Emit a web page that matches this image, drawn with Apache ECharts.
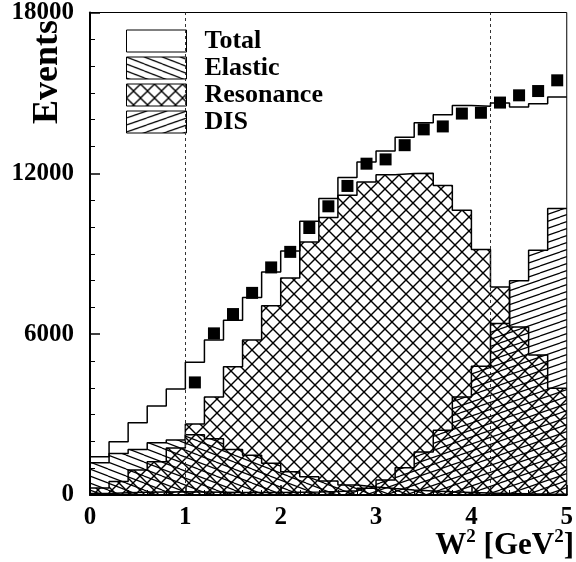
<!DOCTYPE html>
<html>
<head>
<meta charset="utf-8">
<script src="https://cdn.jsdelivr.net/npm/echarts@6/dist/echarts.min.js"></script>
<style>html,body{margin:0;padding:0;background:#fff;}#c{width:576px;height:562px;}</style>
</head>
<body>
<div id="c"></div>
<script>
// ---- data ----
const binEdges = [0, 0.2, 0.4, 0.6, 0.8, 1.0, 1.2, 1.4, 1.6, 1.8, 2.0, 2.2, 2.4, 2.6, 2.8, 3.0, 3.2, 3.4, 3.6, 3.8, 4.0, 4.2, 4.4, 4.6, 4.8, 5.0];
const totalCounts = [1430, 1990, 2700, 3320, 3950, 4950, 5780, 6520, 7370, 8320, 9100, 10210, 11060, 11840, 12420, 12830, 13350, 13890, 14190, 14530, 14500, 14620, 14470, 14600, 14850];
const elasticCounts = [1200, 1550, 1700, 1950, 2050, 2250, 2100, 1700, 1480, 1180, 870, 680, 520, 370, 300, 240, 190, 150, 120, 95, 75, 60, 45, 35, 28];
const resonanceCounts = [260, 500, 930, 1240, 1750, 2650, 3660, 4780, 5780, 7060, 8100, 9440, 10350, 11180, 11680, 11950, 11990, 12000, 11550, 10620, 9160, 7760, 6270, 5220, 3980];
const disCounts = [60, 80, 100, 110, 120, 110, 100, 90, 90, 90, 100, 110, 130, 160, 250, 560, 1020, 1600, 2420, 3660, 4800, 6400, 7990, 9130, 10690];
const dataW2 = [1.1, 1.3, 1.5, 1.7, 1.9, 2.1, 2.3, 2.5, 2.7, 2.9, 3.1, 3.3, 3.5, 3.7, 3.9, 4.1, 4.3, 4.5, 4.7, 4.9];
const dataCounts = [4200, 6030, 6750, 7540, 8490, 9070, 9960, 10770, 11530, 12360, 12520, 13050, 13640, 13750, 14230, 14260, 14640, 14910, 15070, 15470];
const xTickLabels = ['0', '1', '2', '3', '4', '5'];
const yTickLabels = ['0', '6000', '12000', '18000'];
const legendNames = ['Total', 'Elastic', 'Resonance', 'DIS'];
const cutLines = [1.0, 4.2];

// ---- hatch patterns ----
function slantPattern(w, h, rising, lw) {
  const c = document.createElement('canvas');
  c.width = w; c.height = h;
  const g = c.getContext('2d');
  g.strokeStyle = '#000'; g.lineWidth = lw;
  for (let k = -1; k <= 1; k++) {
    g.beginPath();
    if (rising) { g.moveTo(0, h + k * h); g.lineTo(w, k * h); }
    else { g.moveTo(0, k * h); g.lineTo(w, h + k * h); }
    g.stroke();
  }
  return { image: c, repeat: 'repeat' };
}
function crossPattern(s, lw) {
  const c = document.createElement('canvas');
  c.width = s; c.height = s;
  const g = c.getContext('2d');
  g.strokeStyle = '#000'; g.lineWidth = lw;
  for (let k = -1; k <= 1; k++) {
    g.beginPath(); g.moveTo(k * s, 0); g.lineTo(s + k * s, s); g.stroke();
    g.beginPath(); g.moveTo(k * s, s); g.lineTo(s + k * s, 0); g.stroke();
  }
  return { image: c, repeat: 'repeat' };
}
const elasticFill = slantPattern(18, 7, false, 1.2);
const disFill = slantPattern(20, 7, true, 1.2);
const resFill = crossPattern(14, 1.4);

function stepData(counts) {
  return binEdges.map((e, i) => [e, counts[Math.min(i, counts.length - 1)]]);
}

const serif = 'Liberation Serif';
const chart = echarts.init(document.getElementById('c'), null, { renderer: 'canvas' });

function histSeries(name, counts, fill, z) {
  return {
    name: name, type: 'line', step: 'end', data: stepData(counts),
    symbol: 'none', z: z, silent: true,
    lineStyle: { color: '#000', width: 1.5 },
    itemStyle: { color: '#000' },
    areaStyle: fill ? { color: fill, opacity: 1 } : undefined
  };
}

const option = {
  animation: false,
  backgroundColor: '#fff',
  grid: { left: 90, right: 3, top: 12, bottom: 67, show: true, borderColor: '#000', borderWidth: 1, backgroundColor: 'transparent' },
  legend: {
    orient: 'vertical', left: 126, top: 28, padding: 0, itemWidth: 60, itemHeight: 22, itemGap: 1,
    selectedMode: false, icon: 'rect',
    textStyle: { fontFamily: serif, fontWeight: 'bold', fontSize: 26, color: '#000', padding: [0, 0, 0, 13] },
    data: [
      { name: legendNames[0], itemStyle: { color: '#fff', borderColor: '#000', borderWidth: 1 } },
      { name: legendNames[1], itemStyle: { color: elasticFill, borderColor: '#000', borderWidth: 1 } },
      { name: legendNames[2], itemStyle: { color: resFill, borderColor: '#000', borderWidth: 1 } },
      { name: legendNames[3], itemStyle: { color: disFill, borderColor: '#000', borderWidth: 1 } }
    ]
  },
  xAxis: {
    type: 'value', min: 0, max: 5, interval: 1,
    axisLine: { show: true, lineStyle: { color: '#000', width: 2 } },
    axisTick: { show: true, inside: true, length: 10, lineStyle: { color: '#000', width: 1.5 } },
    minorTick: { show: true, splitNumber: 5, length: 5, lineStyle: { color: '#000', width: 1 } },
    splitLine: { show: false },
    axisLabel: { fontFamily: serif, fontWeight: 'bold', fontSize: 25, color: '#000', margin: 10,
      formatter: v => xTickLabels[Math.round(v)] }
  },
  yAxis: {
    type: 'value', min: 0, max: 18000, interval: 6000,
    axisLine: { show: true, lineStyle: { color: '#000', width: 2 } },
    axisTick: { show: true, inside: true, length: 10, lineStyle: { color: '#000', width: 1.5 } },
    minorTick: { show: true, splitNumber: 6, length: 5, lineStyle: { color: '#000', width: 1 } },
    splitLine: { show: false },
    axisLabel: { fontFamily: serif, fontWeight: 'bold', fontSize: 25, color: '#000', margin: 16,
      formatter: v => yTickLabels[Math.round(v / 6000)] }
  },
  graphic: [
    { type: 'text', x: 48, y: 72, rotation: Math.PI / 2, z: 100,
      style: { text: 'Events', font: 'bold 36px "Liberation Serif"', fill: '#000', textAlign: 'center', textVerticalAlign: 'middle' } },
    { type: 'text', x: 574, y: 561, z: 100,
      style: {
        text: '{a|W}{b|2}{a| [GeV}{b|2}{a|]}', align: 'right', verticalAlign: 'bottom', fill: '#000',
        rich: {
          a: { fontFamily: serif, fontWeight: 'bold', fontSize: 31, fill: '#000', verticalAlign: 'bottom', lineHeight: 31 },
          b: { fontFamily: serif, fontWeight: 'bold', fontSize: 19, fill: '#000', verticalAlign: 'bottom', lineHeight: 19, padding: [0, 0, 14, 0] }
        }
      } }
  ],
  series: [
    histSeries(legendNames[1], elasticCounts, elasticFill, 3),
    histSeries(legendNames[2], resonanceCounts, resFill, 4),
    histSeries(legendNames[3], disCounts, disFill, 5),
    Object.assign(histSeries(legendNames[0], totalCounts, null, 6), {
      markLine: {
        silent: true, symbol: 'none', label: { show: false },
        lineStyle: { color: '#333', width: 1, type: [3, 3] },
        data: cutLines.map(v => ({ xAxis: v }))
      }
    }),
    {
      name: 'Data', type: 'scatter', symbol: 'rect', symbolSize: 12, z: 10, silent: true,
      itemStyle: { color: '#000', opacity: 1 },
      data: dataW2.map((x, i) => [x, dataCounts[i]])
    }
  ]
};
chart.setOption(option);
</script>
</body>
</html>
